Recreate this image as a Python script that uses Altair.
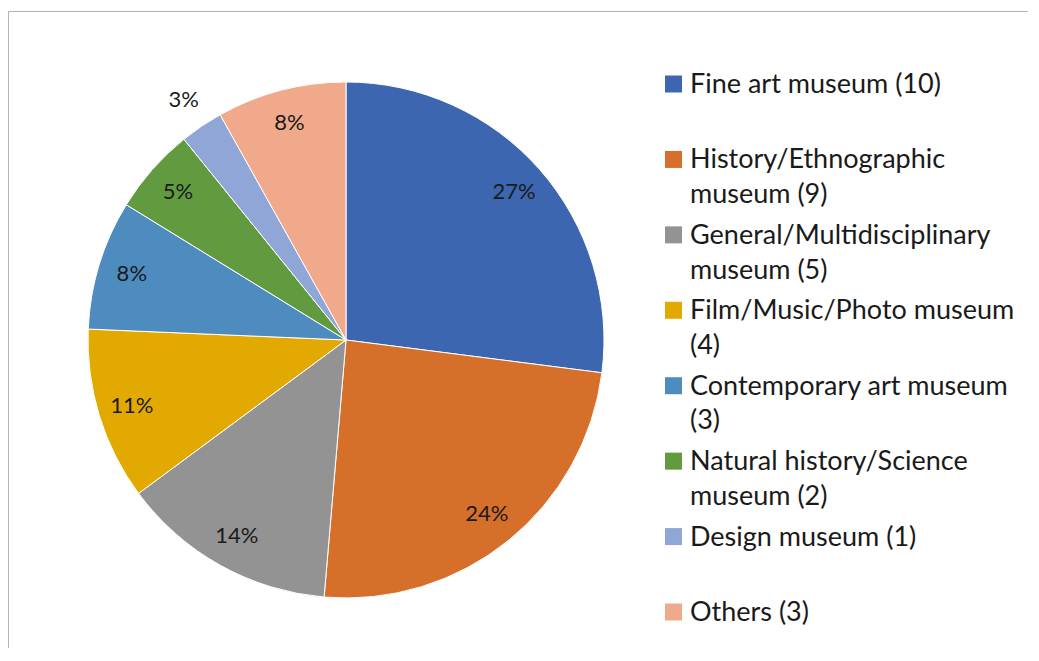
import altair as alt
import pandas as pd

categories = [
    "Fine art museum",
    "History/Ethnographic museum",
    "General/Multidisciplinary museum",
    "Film/Music/Photo museum",
    "Contemporary art museum",
    "Natural history/Science museum",
    "Design museum",
    "Others",
]
counts = [10, 9, 5, 4, 3, 2, 1, 3]
legend_labels = [
    "Fine art museum (10)",
    "History/Ethnographic\nmuseum (9)",
    "General/Multidisciplinary\nmuseum (5)",
    "Film/Music/Photo museum\n(4)",
    "Contemporary art museum\n(3)",
    "Natural history/Science\nmuseum (2)",
    "Design museum (1)",
    "Others (3)",
]
colors = ["#3C66AF", "#D56F2A", "#939393", "#E2AA00",
          "#4E8BBF", "#629B3F", "#8FA6D6", "#F0A98B"]

df = pd.DataFrame({
    "idx": list(range(len(categories))),
    "category": categories,
    "count": counts,
    "legend": legend_labels,
})

FONT = "Lato"
W, H = 1020, 640
CX, CY = 338, 332

color_scale = alt.Scale(domain=categories, range=colors)

pie = alt.Chart(df).mark_arc(outerRadius=258, stroke="white", strokeWidth=1).encode(
    theta=alt.Theta("count:Q", stack=True),
    color=alt.Color("category:N", scale=color_scale, legend=None),
    order=alt.Order("idx:Q", sort="ascending"),
    x=alt.value(CX),
    y=alt.value(CY),
)

labels = alt.Chart(df).transform_joinaggregate(
    total="sum(count)"
).transform_window(
    cum="sum(count)", sort=[alt.SortField("idx", order="ascending")],
    frame=[None, 0],
).transform_calculate(
    pct="format(datum.count / datum.total, '.0%')",
    mid="(datum.cum - datum.count / 2) / datum.total * 2 * PI",
    lr="datum.count < 2 ? 290 : 224",
).mark_text(font=FONT, fontSize=22, color="#1a1a1a").encode(
    theta=alt.Theta("mid:Q", scale=None),
    radius=alt.Radius("lr:Q", scale=None),
    text="pct:N",
    x=alt.value(CX),
    y=alt.value(CY),
)

yscale = alt.Scale(domain=[0, 7], range=[76, 604])

leg_sq = alt.Chart(df).mark_square(size=289, opacity=1).encode(
    x=alt.value(665.5),
    y=alt.Y("idx:Q", scale=yscale, axis=None),
    color=alt.Color("category:N", scale=color_scale, legend=None),
)

leg_txt = alt.Chart(df).mark_text(
    font=FONT, fontSize=27, align="left", baseline="alphabetic",
    dy=9, lineBreak="\n", lineHeight=34.7, color="#1a1a1a",
).encode(
    x=alt.value(682),
    y=alt.Y("idx:Q", scale=yscale, axis=None),
    text="legend:N",
)

border = alt.Chart(df).mark_rule(color="#B4B4B4", strokeWidth=1).encode(
    x=alt.value(0.5), x2=alt.value(W), y=alt.value(3.5), y2=alt.value(3.5)
)
border_l = alt.Chart(df).mark_rule(color="#B4B4B4", strokeWidth=1).encode(
    x=alt.value(0.5), x2=alt.value(0.5), y=alt.value(3.5), y2=alt.value(H)
)

chart = alt.layer(border, border_l, pie, labels, leg_sq, leg_txt).properties(
    width=W, height=H, autosize=alt.AutoSizeParams(type="none"),
    padding=0,
).configure_view(stroke=None)

chart.save("out.html", embed_options={"renderer": "svg", "actions": False})
